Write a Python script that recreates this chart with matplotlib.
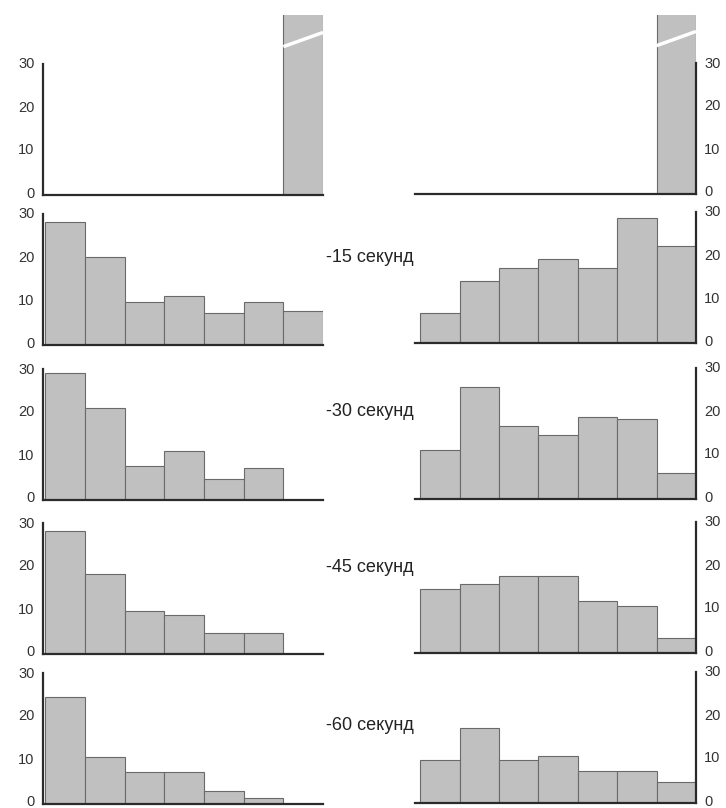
import matplotlib
matplotlib.use("Agg")
import matplotlib.pyplot as plt
import matplotlib.transforms as mtransforms
import numpy as np

plt.rcParams['font.family'] = ['Liberation Sans', 'DejaVu Sans']

# ---- data (percent of subjects per bin) ----
bins = np.arange(7)
row_labels = ["", "-15 секунд", "-30 секунд", "-45 секунд", "-60 секунд"]
left_0 = [0, 0, 0, 0, 0, 0, 45]
right_0 = [0, 0, 0, 0, 0, 0, 45]
left_15 = [28.5, 20.5, 10, 11.5, 7.5, 10, 8]
right_15 = [7, 14.5, 17.5, 19.5, 17.5, 29, 22.5]
left_30 = [29.5, 21.5, 8, 11.5, 5, 7.5, 0]
right_30 = [11.5, 26, 17, 15, 19, 18.5, 6]
left_45 = [28.5, 18.5, 10, 9, 5, 5, 0]
right_45 = [15, 16, 18, 18, 12, 11, 3.5]
left_60 = [25, 11, 7.5, 7.5, 3, 1.5, 0]
right_60 = [10, 17.5, 10, 11, 7.5, 7.5, 5]
yticks = [0, 10, 20, 30]

left_rows = [left_0, left_15, left_30, left_45, left_60]
right_rows = [right_0, right_15, right_30, right_45, right_60]

# ---- layout (pixels) ----
W, H = 726, 808
PX_PER_UNIT = 4.3
left_base = [195, 345, 500, 654, 804]
right_base = [194, 343, 499, 653, 803]
label_y = [None, 257, 412, 567, 725]

fig = plt.figure(figsize=(W / 100, H / 100), dpi=100)
fig.patch.set_facecolor('white')

BAR_FC = '#c0c0c0'
BAR_EC = '#6a6a6a'
AX_C = '#2b2b2b'
TXT_C = '#333333'

lift = mtransforms.ScaledTranslation(0, 3 / 100, fig.dpi_scale_trans)


def make_axes(x0, x1, base, top):
    return fig.add_axes([x0 / W, 1 - base / H, (x1 - x0) / W, (base - top) / H])


for r in range(5):
    for side in ("left", "right"):
        if side == "left":
            base = left_base[r]
            x0, x1 = 43, 323
            xlim = (-0.06, 7.0)
            vals = left_rows[r]
        else:
            base = right_base[r]
            x0, x1 = 415, 696
            xlim = (-0.13, 7.0)
            vals = right_rows[r]
        top = 15 if r == 0 else base - 33 * PX_PER_UNIT
        ax = make_axes(x0, x1, base, top)
        ax.set_facecolor('none')
        ax.bar(bins, vals, width=1.0, align='edge', color=BAR_FC,
               edgecolor=BAR_EC, linewidth=0.8, zorder=2)
        ax.set_xlim(*xlim)
        ax.set_ylim(0, (base - top) / PX_PER_UNIT)
        ax.set_xticks([])
        ax.set_yticks(yticks)
        ax.set_yticklabels([str(t) for t in yticks])
        for s in ax.spines.values():
            s.set_color(AX_C)
            s.set_linewidth(1.6)
        ax.spines['top'].set_visible(False)
        if side == "left":
            ax.spines['right'].set_visible(False)
            ax.spines['left'].set_bounds(0, 30.5)
        else:
            ax.spines['left'].set_visible(False)
            ax.spines['right'].set_bounds(0, 30.5)
            ax.yaxis.tick_right()
        ax.tick_params(axis='y', length=0, pad=6, labelsize=10.5, labelcolor=TXT_C)
        for lab in ax.get_yticklabels():
            lab.set_transform(lab.get_transform() + lift)
        if r == 0:
            # break mark across the clipped bar
            ax.plot([6, 7], [34.5, 37.8], color='white', lw=2.5, zorder=3,
                    solid_capstyle='butt')

for r in range(1, 5):
    fig.text(370 / W, 1 - label_y[r] / H, row_labels[r], ha='center', va='center',
             fontsize=13, color='#222222')

fig.savefig("out.png", dpi=100, facecolor='white')
